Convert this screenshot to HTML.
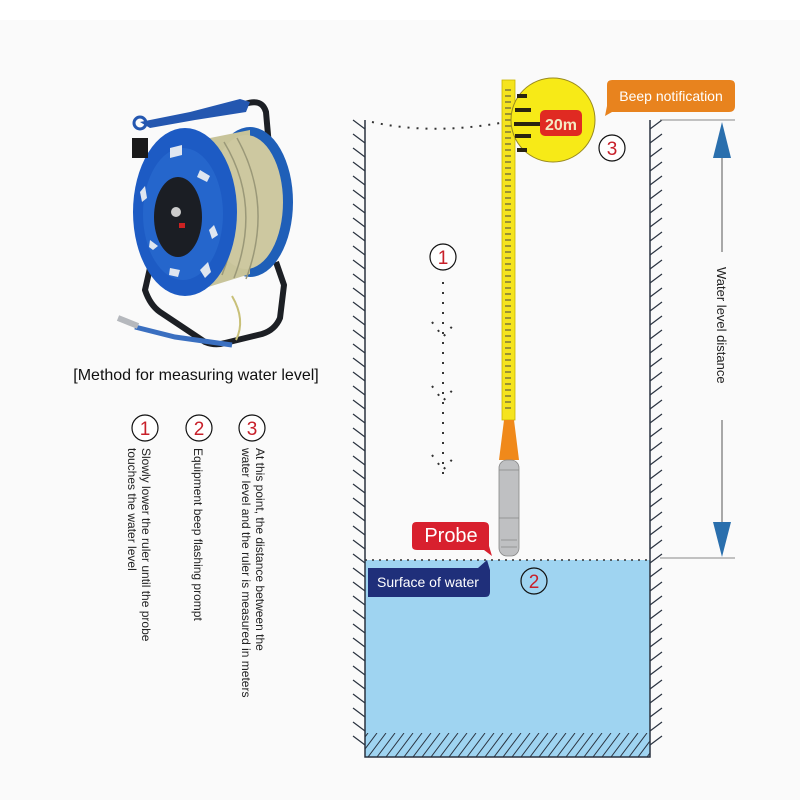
<!DOCTYPE html>
<html><head><meta charset="utf-8"><style>
html,body{margin:0;padding:0;background:#fff;}
svg{display:block;font-family:"Liberation Sans",sans-serif;}
</style></head><body>
<svg width="800" height="800" viewBox="0 0 800 800">
<defs>
<clipPath id="bc"><rect x="365" y="733" width="285" height="24"/></clipPath>
</defs>
<rect x="0" y="0" width="800" height="800" fill="#fff"/>
<rect x="0" y="20" width="800" height="780" fill="#fafafa"/>

<!-- reel -->
<g>
<path d="M150 268 L145 290 Q150 305 160 312 L205 342 Q215 346 225 343 L262 334 Q275 330 280 318 L284 285 L276 262" fill="none" stroke="#1c1f24" stroke-width="6" stroke-linejoin="round"/>
<path d="M245 104 Q262 98 266 112 L272 180" fill="none" stroke="#1c1f24" stroke-width="6"/>
<ellipse cx="250" cy="202" rx="43" ry="75" fill="#1f5fb8"/>
<path d="M200 140 L250 130 L250 274 L205 288 Z" fill="#c8c49a"/>
<ellipse cx="246" cy="202" rx="37" ry="67" fill="#cdc8a0"/>
<path d="M212 148 Q250 205 222 275 M224 142 Q262 205 234 278 M237 138 Q274 205 246 279" stroke="#9a9878" fill="none" stroke-width="1.5"/>
<ellipse cx="185" cy="212" rx="52" ry="84" fill="#1d5bc4"/>
<ellipse cx="183" cy="214" rx="40" ry="66" fill="#2566cc"/>
<ellipse cx="178" cy="217" rx="24" ry="40" fill="#1b1e24"/>
<circle cx="176" cy="212" r="5" fill="#ccc"/>
<rect x="179" y="223" width="6" height="5" fill="#c22"/>
<g fill="#dfe6f0">
<path d="M170 148 l12 -3 l0 10 l-12 3z"/><path d="M200 170 l10 6 l-3 6 l-10 -5z"/><path d="M214 225 l4 10 l-6 4 l-3 -9z"/><path d="M200 270 l8 -8 l3 10 l-6 6z"/><path d="M140 192 l5 -6 l2 12 l-5 4z"/><path d="M150 240 l8 6 l-5 4 l-4 -3z"/><path d="M170 268 l10 2 l-2 7 l-9 -2z"/>
</g>
<path d="M140 122 L190 112 L240 99 L250 102 L246 112 L195 120 L150 128 Z" fill="#2457b0"/>
<circle cx="140" cy="123" r="6" fill="none" stroke="#2457b0" stroke-width="3"/>
<rect x="132" y="138" width="16" height="20" fill="#1a1a1a"/>
<path d="M232 296 Q246 320 236 340" stroke="#c8c078" stroke-width="2" fill="none"/>
<path d="M135 327 L175 337 L232 345" stroke="#3a6fc0" stroke-width="5" fill="none"/>
<path d="M118 318 L138 326" stroke="#b5b8bd" stroke-width="6"/>
</g>
<text x="196" y="380" font-size="16" text-anchor="middle" fill="#111">[Method for measuring water level]</text>

<!-- numbered items -->
<g font-size="19" fill="#c8202a" text-anchor="middle">
<circle cx="145" cy="428" r="13" fill="#fff" stroke="#111" stroke-width="1.2"/><text x="145" y="435">1</text>
<circle cx="199" cy="428" r="13" fill="#fff" stroke="#111" stroke-width="1.2"/><text x="199" y="435">2</text>
<circle cx="252" cy="428" r="13" fill="#fff" stroke="#111" stroke-width="1.2"/><text x="252" y="435">3</text>
</g>
<g font-size="12" fill="#222">
<text transform="translate(142,448) rotate(90)">Slowly lower the ruler until the probe</text>
<text transform="translate(128,448) rotate(90)">touches the water level</text>
<text transform="translate(194,448) rotate(90)">Equipment beep flashing prompt</text>
<text transform="translate(256,448) rotate(90)">At this point, the distance between the</text>
<text transform="translate(242,448) rotate(90)">water level and the ruler is measured in meters</text>
</g>

<!-- water -->
<rect x="365" y="560" width="285" height="197" fill="#9fd4f1"/>
<g clip-path="url(#bc)" stroke="#2a3340" stroke-width="1">
<path d="M350 757 l18 -24 M359 757 l18 -24 M368 757 l18 -24 M377 757 l18 -24 M386 757 l18 -24 M395 757 l18 -24 M404 757 l18 -24 M413 757 l18 -24 M422 757 l18 -24 M431 757 l18 -24 M440 757 l18 -24 M449 757 l18 -24 M458 757 l18 -24 M467 757 l18 -24 M476 757 l18 -24 M485 757 l18 -24 M494 757 l18 -24 M503 757 l18 -24 M512 757 l18 -24 M521 757 l18 -24 M530 757 l18 -24 M539 757 l18 -24 M548 757 l18 -24 M557 757 l18 -24 M566 757 l18 -24 M575 757 l18 -24 M584 757 l18 -24 M593 757 l18 -24 M602 757 l18 -24 M611 757 l18 -24 M620 757 l18 -24 M629 757 l18 -24 M638 757 l18 -24 M647 757 l18 -24"/>
</g>
<line x1="365" y1="560" x2="650" y2="560" stroke="#333" stroke-width="1.5" stroke-dasharray="2,5"/>
<!-- walls -->
<path d="M365 120 V757 H650 V120" fill="none" stroke="#2a3340" stroke-width="1.5"/>
<g stroke="#2a3340" stroke-width="1.2">
<path d="M353 120 l12 9 M353 134 l12 9 M353 148 l12 9 M353 162 l12 9 M353 176 l12 9 M353 190 l12 9 M353 204 l12 9 M353 218 l12 9 M353 232 l12 9 M353 246 l12 9 M353 260 l12 9 M353 274 l12 9 M353 288 l12 9 M353 302 l12 9 M353 316 l12 9 M353 330 l12 9 M353 344 l12 9 M353 358 l12 9 M353 372 l12 9 M353 386 l12 9 M353 400 l12 9 M353 414 l12 9 M353 428 l12 9 M353 442 l12 9 M353 456 l12 9 M353 470 l12 9 M353 484 l12 9 M353 498 l12 9 M353 512 l12 9 M353 526 l12 9 M353 540 l12 9 M353 554 l12 9 M353 568 l12 9 M353 582 l12 9 M353 596 l12 9 M353 610 l12 9 M353 624 l12 9 M353 638 l12 9 M353 652 l12 9 M353 666 l12 9 M353 680 l12 9 M353 694 l12 9 M353 708 l12 9 M353 722 l12 9 M353 736 l12 9"/>
<path d="M650 129 l12 -9 M650 143 l12 -9 M650 157 l12 -9 M650 171 l12 -9 M650 185 l12 -9 M650 199 l12 -9 M650 213 l12 -9 M650 227 l12 -9 M650 241 l12 -9 M650 255 l12 -9 M650 269 l12 -9 M650 283 l12 -9 M650 297 l12 -9 M650 311 l12 -9 M650 325 l12 -9 M650 339 l12 -9 M650 353 l12 -9 M650 367 l12 -9 M650 381 l12 -9 M650 395 l12 -9 M650 409 l12 -9 M650 423 l12 -9 M650 437 l12 -9 M650 451 l12 -9 M650 465 l12 -9 M650 479 l12 -9 M650 493 l12 -9 M650 507 l12 -9 M650 521 l12 -9 M650 535 l12 -9 M650 549 l12 -9 M650 563 l12 -9 M650 577 l12 -9 M650 591 l12 -9 M650 605 l12 -9 M650 619 l12 -9 M650 633 l12 -9 M650 647 l12 -9 M650 661 l12 -9 M650 675 l12 -9 M650 689 l12 -9 M650 703 l12 -9 M650 717 l12 -9 M650 731 l12 -9 M650 745 l12 -9"/>
</g>
<path d="M372 122 Q430 135 500 123" fill="none" stroke="#333" stroke-width="2" stroke-dasharray="2,7"/>

<!-- ruler -->
<rect x="502" y="80" width="13" height="340" fill="#f5e41e" stroke="#c9b400" stroke-width="0.8"/>
<g stroke="#444" stroke-width="1">
<path d="M505 90h6M505 96h6M505 102h6M505 108h6M505 114h6M505 120h6M505 126h6M505 132h6M505 138h6M505 144h6M505 150h6M505 156h6M505 162h6M505 168h6M505 174h6M505 180h6M505 186h6M505 192h6M505 198h6M505 204h6M505 210h6M505 216h6M505 222h6M505 228h6M505 234h6M505 240h6M505 246h6M505 252h6M505 258h6M505 264h6M505 270h6M505 276h6M505 282h6M505 288h6M505 294h6M505 300h6M505 306h6M505 312h6M505 318h6M505 324h6M505 330h6M505 336h6M505 342h6M505 348h6M505 354h6M505 360h6M505 366h6M505 372h6M505 378h6M505 384h6M505 390h6M505 396h6M505 402h6M505 408h6"/>
</g>
<path d="M504 420 H514 L519 460 H499 Z" fill="#f0891a"/>
<rect x="499" y="460" width="20" height="96" rx="8" fill="#bfc0c2" stroke="#888" stroke-width="0.8"/>
<path d="M499 470h20M499 518h20M501 540h16M501 547h16" stroke="#888" stroke-width="0.8"/>

<!-- magnifier -->
<circle cx="553" cy="120" r="42" fill="#f7ea17" stroke="#998a20" stroke-width="1"/>
<g stroke="#2a2410" stroke-width="4">
<path d="M517 96h10M515 110h16M514 124h26M515 136h16M517 150h10"/>
</g>
<rect x="540" y="110" width="42" height="26" rx="5" fill="#e02a22"/>
<text x="561" y="130" font-size="16" font-weight="bold" fill="#f4e9c4" text-anchor="middle">20m</text>

<!-- beep -->
<path d="M612 80 H730 Q735 80 735 85 V106 Q735 112 729 112 H612 L605 116 L607 106 V85 Q607 80 612 80 Z" fill="#e8831e"/>
<text x="671" y="101" font-size="14" fill="#fff" text-anchor="middle">Beep notification</text>
<circle cx="612" cy="148" r="13" fill="#fff" stroke="#111" stroke-width="1.2"/>
<text x="612" y="155" font-size="19" fill="#c8202a" text-anchor="middle">3</text>

<!-- distance arrow -->
<path d="M660 120 H735 M660 558 H735" stroke="#888" stroke-width="1"/>
<path d="M722 158 V252 M722 420 V522" stroke="#555" stroke-width="1"/>
<path d="M722 122 L713 158 H731 Z M722 557 L713 522 H731 Z" fill="#2a6fad"/>
<text transform="translate(717,267) rotate(90)" font-size="13" fill="#222">Water level distance</text>

<!-- step 1 -->
<circle cx="443" cy="257" r="13" fill="#fff" stroke="#111" stroke-width="1.2"/>
<text x="443" y="264" font-size="19" fill="#c8202a" text-anchor="middle">1</text>
<g stroke="#333" stroke-width="2" stroke-dasharray="2,8" fill="none">
<line x1="443" y1="282" x2="443" y2="478"/>
<path d="M432 322 L443 337 L456 322"/>
<path d="M432 386 L443 401 L456 386"/>
<path d="M432 455 L443 470 L456 455"/>
</g>

<!-- probe label -->
<path d="M416 522 Q412 522 412 527 V546 Q412 550 417 550 H484 L492 556 L489 546 V527 Q489 522 484 522 Z" fill="#d8202e"/>
<text x="451" y="542" font-size="20" fill="#fff" text-anchor="middle">Probe</text>
<!-- surface label -->
<path d="M368 568 H478 L487 560 L490 570 V592 Q490 597 485 597 H368 Z" fill="#1f2f7a"/>
<text x="428" y="587" font-size="14" fill="#fff" text-anchor="middle">Surface of  water</text>
<circle cx="534" cy="581" r="13" fill="none" stroke="#111" stroke-width="1.2"/>
<text x="534" y="588" font-size="19" fill="#c8202a" text-anchor="middle">2</text>
</svg>
</body></html>
